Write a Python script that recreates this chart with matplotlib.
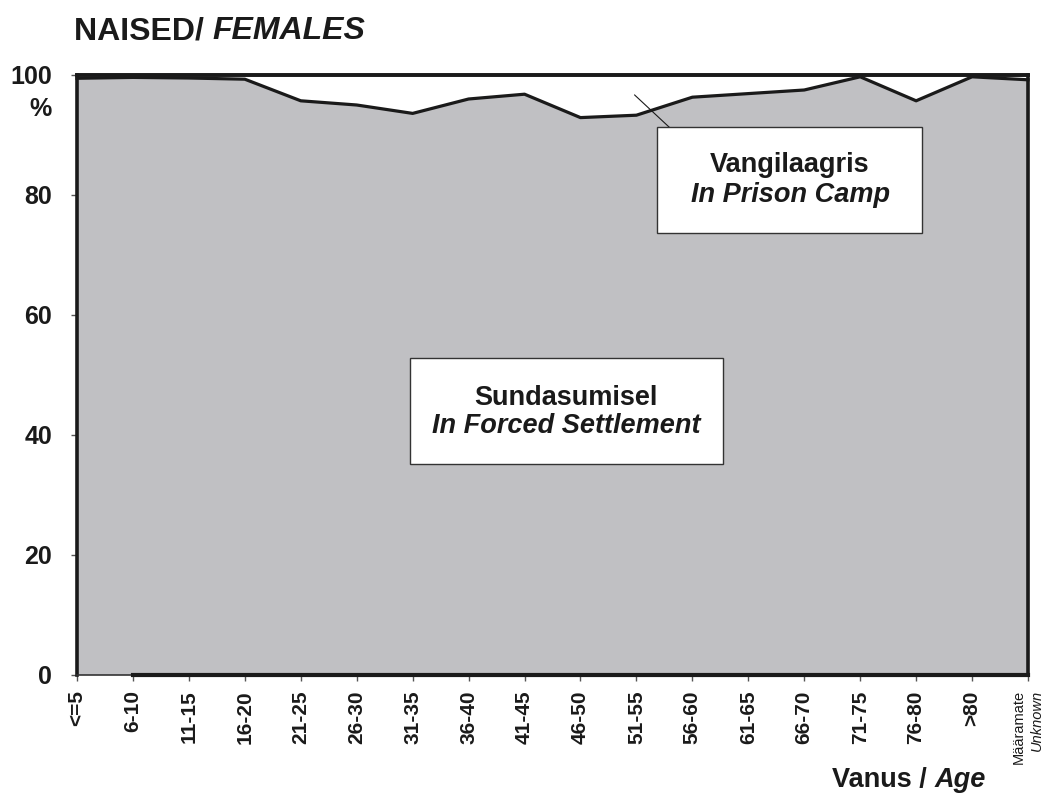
import numpy as np
import matplotlib
matplotlib.use('Agg')
import matplotlib.pyplot as plt
from matplotlib.patches import Rectangle

plt.rcParams['font.family'] = ['Liberation Sans', 'DejaVu Sans']

# -----------------------------------------------------------------------------
age_groups = ['<=5', '6-10', '11-15', '16-20', '21-25', '26-30', '31-35', '36-40',
              '41-45', '46-50', '51-55', '56-60', '61-65', '66-70', '71-75',
              '76-80', '>80', 'Määramate']
# share of deported women by place, per age group (%)
settlement_pct = [99.45, 99.6, 99.5, 99.3, 95.7, 95.0, 93.6, 96.0, 96.8,
                  92.9, 93.3, 96.3, 96.9, 97.5, 99.7, 95.7, 99.7, 99.2]
prison_pct = [0.55, 0.4, 0.5, 0.7, 4.3, 5.0, 6.4, 4.0, 3.2,
              7.1, 6.7, 3.7, 3.1, 2.5, 0.3, 4.3, 0.3, 0.8]
y_ticks = [0, 20, 40, 60, 80, 100]

GRAY = '#c0c0c3'
INK = '#1a1a1a'
W, H = 1049, 795


def fx(px):
    return px / W


def fy(py):
    return 1 - py / H


fig = plt.figure(figsize=(W / 100, H / 100), dpi=100)
ax = fig.add_axes([fx(77), fy(675), (1028 - 77) / W, 600 / H])

x = np.arange(len(age_groups))
ax.stackplot(x, settlement_pct, prison_pct, colors=[GRAY, 'white'], lw=0)
ax.plot(x, settlement_pct, color=INK, lw=2.3, clip_on=False, zorder=3)
top = np.array(settlement_pct) + np.array(prison_pct)
ax.plot(x, top, color=INK, lw=2.6, clip_on=False, zorder=3)
ax.plot(x[1:], np.zeros(len(x) - 1), color=INK, lw=3, clip_on=False, zorder=3)

ax.set_xlim(0, len(age_groups) - 1)
ax.set_ylim(0, 100)
for side in ['left', 'right', 'top']:
    ax.spines[side].set_linewidth(2.6)
    ax.spines[side].set_color(INK)
ax.spines['bottom'].set_linewidth(1.2)
ax.spines['bottom'].set_color('#333333')

ax.set_yticks(y_ticks)
ax.set_yticklabels([str(v) for v in y_ticks], fontsize=18, fontweight='bold')
ax.tick_params(axis='y', direction='out', length=4, width=1, color='#555555', pad=14)
ax.set_xticks(x)
ax.set_xticklabels(age_groups[:-1] + [''], rotation=90, fontsize=15, fontweight='bold',
                   va='top', ha='center')
ax.tick_params(axis='x', direction='out', length=4, width=1, color='#555555', pad=7)
for lab in ax.get_yticklabels() + ax.get_xticklabels():
    lab.set_color(INK)

# unknown age group label, two lines
fig.text(fx(1019), fy(690), 'Määramate', rotation=90, fontsize=10.5,
         ha='center', va='top', color=INK)
fig.text(fx(1037), fy(690), 'Unknown', rotation=90, fontsize=10.5, style='italic',
         ha='center', va='top', color=INK)

# title
renderer = fig.canvas.get_renderer()
t1 = fig.text(fx(74), fy(39), 'NAISED/ ', fontsize=23, fontweight='bold',
              ha='left', va='baseline', color=INK)
bb = t1.get_window_extent(renderer)
fig.text(bb.x1 / W, fy(39), 'FEMALES', fontsize=23, fontweight='bold', style='italic',
         ha='left', va='baseline', color=INK)
fig.text(fx(41), fy(109), '%', fontsize=18, fontweight='bold', ha='center', va='center',
         color=INK)

# axis title
t2 = fig.text(fx(986), fy(787), 'Age', fontsize=19.5, fontweight='bold', style='italic',
              ha='right', va='baseline', color=INK)
bb = t2.get_window_extent(renderer)
fig.text(bb.x0 / W, fy(787), 'Vanus / ', fontsize=19.5, fontweight='bold',
         ha='right', va='baseline', color=INK)

# label boxes
for x0, y0, x1, y1 in [(657, 127, 922, 233), (410, 358, 723, 464)]:
    fig.add_artist(Rectangle((fx(x0), fy(y1)), (x1 - x0) / W, (y1 - y0) / H,
                             transform=fig.transFigure, facecolor='white',
                             edgecolor='#333333', lw=1.0, zorder=5))
fig.text(fx(790), fy(172), 'Vangilaagris', fontsize=19.5, fontweight='bold',
         ha='center', va='baseline', color=INK, zorder=6)
fig.text(fx(791), fy(202), 'In Prison Camp', fontsize=19.5, fontweight='bold',
         style='italic', ha='center', va='baseline', color=INK, zorder=6)
fig.text(fx(566), fy(405), 'Sundasumisel', fontsize=19.5, fontweight='bold',
         ha='center', va='baseline', color=INK, zorder=6)
fig.text(fx(566), fy(433), 'In Forced Settlement', fontsize=19.5, fontweight='bold',
         style='italic', ha='center', va='baseline', color=INK, zorder=6)

# leader line to the prison camp band
ax.annotate('', xy=(9.93, 97.0), xytext=(11.22, 85.8),
            arrowprops=dict(arrowstyle='-', lw=0.8, color=INK), zorder=4)

fig.savefig('out.png', dpi=100)
